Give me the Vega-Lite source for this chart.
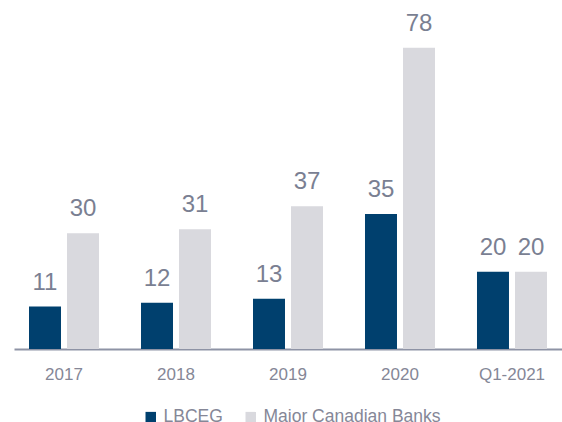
{
  "$schema": "https://vega.github.io/schema/vega-lite/v6.json",
  "autosize": "none",
  "width": 548,
  "height": 349,
  "padding": {"left": 14, "top": 0, "right": 0, "bottom": 73},
  "background": "white",
  "config": {"view": {"stroke": null}, "font": "Liberation Sans"},
  "data": {"values": [
    {"period": "2017", "series": "LBCEG", "value": 11},
    {"period": "2017", "series": "Major Canadian Banks", "value": 30},
    {"period": "2018", "series": "LBCEG", "value": 12},
    {"period": "2018", "series": "Major Canadian Banks", "value": 31},
    {"period": "2019", "series": "LBCEG", "value": 13},
    {"period": "2019", "series": "Major Canadian Banks", "value": 37},
    {"period": "2020", "series": "LBCEG", "value": 35},
    {"period": "2020", "series": "Major Canadian Banks", "value": 78},
    {"period": "Q1-2021", "series": "LBCEG", "value": 20},
    {"period": "Q1-2021", "series": "Major Canadian Banks", "value": 20}
  ]},
  "encoding": {
    "x": {"field": "period", "type": "nominal", "sort": null,
      "scale": {"paddingInner": 0.375, "paddingOuter": 0.134},
      "axis": {"title": null, "labelAngle": 0, "ticks": false, "labelPadding": 17,
        "labelFontSize": 17, "labelColor": "#858797", "domainColor": "#8E93A5", "domainWidth": 2, "grid": false}},
    "xOffset": {"field": "series", "type": "nominal", "scale": {"paddingInner": 0.158, "paddingOuter": 0}},
    "y": {"field": "value", "type": "quantitative", "scale": {"domain": [0, 90.4], "nice": false}, "axis": null}
  },
  "layer": [
    {"mark": {"type": "bar"},
      "encoding": {"color": {"field": "series", "type": "nominal",
        "scale": {"domain": ["LBCEG", "Major Canadian Banks"], "range": ["#00406E", "#D9D9DE"]},
        "legend": {"title": null, "orient": "none", "legendX": 128, "legendY": 408, "direction": "horizontal",
          "symbolType": "square", "symbolSize": 110, "symbolStrokeWidth": 0, "labelFontSize": 17.5, "labelColor": "#858797",
          "columnPadding": 19, "labelOffset": 4, "labelLimit": 400}}}},
    {"mark": {"type": "text", "baseline": "alphabetic", "dy": -17, "fontSize": 24, "color": "#7A7F92"},
      "encoding": {"text": {"field": "value", "type": "quantitative"}}}
  ]
}
